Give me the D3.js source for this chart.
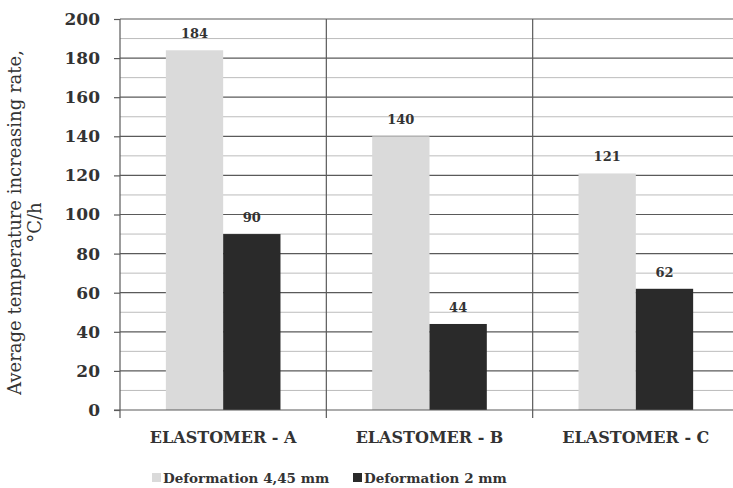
<!DOCTYPE html>
<html>
<head>
<meta charset="utf-8">
<script src="https://cdn.jsdelivr.net/npm/d3@7/dist/d3.min.js"></script>
<style>
  html, body { margin: 0; padding: 0; background: #fff; }
  svg { display: block; }
  text { font-family: "DejaVu Serif", "Liberation Serif", serif; fill: #333; }
</style>
</head>
<body>
<svg id="chart" width="733" height="488"></svg>
<script>
// Average temperature increasing rate per elastomer and deformation level
const categories = ["ELASTOMER - A", "ELASTOMER - B", "ELASTOMER - C"];
const seriesNames = ["Deformation 4,45 mm", "Deformation 2 mm"];
const deformation445 = [184, 140, 121];
const deformation2 = [90, 44, 62];
const yTicks = [0, 20, 40, 60, 80, 100, 120, 140, 160, 180, 200];
const colors = ["#dadada", "#2a2a2a"];

const svg = d3.select("#chart");
const margin = { left: 120, top: 19, right: -6 };
const W = 733;
const plotRight = W - margin.right;

const x = d3.scaleBand().domain(categories).range([margin.left, plotRight]).paddingInner(0).paddingOuter(0);
const y = d3.scaleLinear().domain([0, 200]).range([410, margin.top]);
const xs = d3.scaleBand().domain(seriesNames).range([0, x.bandwidth()]).paddingInner(0).paddingOuter(0.8);

// minor gridlines every 10
const minor = d3.range(10, 200, 20);
svg.append("g").selectAll("line").data(minor).join("line")
  .attr("x1", margin.left).attr("x2", plotRight)
  .attr("y1", d => y(d)).attr("y2", d => y(d))
  .attr("stroke", "#bcbcbc").attr("stroke-width", 1);

// major gridlines every 20
svg.append("g").selectAll("line").data(yTicks.filter(d => d > 0)).join("line")
  .attr("x1", margin.left).attr("x2", plotRight)
  .attr("y1", d => y(d)).attr("y2", d => y(d))
  .attr("stroke", "#5a5a5a").attr("stroke-width", 1.2);

// vertical separators between categories
svg.append("g").selectAll("line").data(categories.slice(1)).join("line")
  .attr("x1", d => x(d)).attr("x2", d => x(d))
  .attr("y1", y(200)).attr("y2", y(0) + 8)
  .attr("stroke", "#5a5a5a").attr("stroke-width", 1.2);

// bars
const series = [deformation445, deformation2];
const groups = svg.append("g").selectAll("g").data(series).join("g")
  .attr("fill", (d, i) => colors[i]);
groups.selectAll("rect").data((vals, si) => vals.map((v, ci) => ({ v, ci, si }))).join("rect")
  .attr("x", d => x(categories[d.ci]) + xs(seriesNames[d.si]))
  .attr("width", xs.bandwidth())
  .attr("y", d => y(d.v))
  .attr("height", d => y(0) - y(d.v));

// value labels
svg.append("g").selectAll("text")
  .data(series.flatMap((vals, si) => vals.map((v, ci) => ({ v, ci, si }))))
  .join("text")
  .attr("x", d => x(categories[d.ci]) + xs(seriesNames[d.si]) + xs.bandwidth() / 2)
  .attr("y", d => y(d.v) - 12)
  .attr("text-anchor", "middle")
  .attr("font-size", 13).attr("font-weight", "bold")
  .text(d => d.v);

// y axis
const yAxis = d3.axisLeft(y).tickValues(yTicks).tickSize(6).tickPadding(14);
const gy = svg.append("g").attr("transform", `translate(${margin.left},0)`).call(yAxis);
gy.select(".domain").attr("stroke", "#5a5a5a").attr("stroke-width", 1.2)
  .attr("d", `M0,${y(200)}V${y(0) + 8}`);
gy.selectAll(".tick line").attr("stroke", "#5a5a5a").attr("stroke-width", 1.2);
gy.selectAll(".tick text").attr("font-size", 17).attr("font-weight", "bold")
  .attr("font-family", "DejaVu Serif, serif").attr("fill", "#4a4a4a");

// x axis baseline
const xAxis = d3.axisBottom(x).tickSize(0).tickPadding(22);
const gx = svg.append("g").attr("transform", `translate(0,${y(0)})`).call(xAxis);
gx.select(".domain").attr("stroke", "#5a5a5a").attr("stroke-width", 1.2)
  .attr("d", `M${margin.left - 6},0H${plotRight}`);
gx.selectAll(".tick text").attr("font-size", 16).attr("font-weight", "bold")
  .attr("font-family", "DejaVu Serif, serif").attr("fill", "#333").attr("dy", "0.71em");

// y axis title
const title = svg.append("text")
  .attr("transform", `translate(21,${(y(0) + y(200)) / 2 + 8}) rotate(-90)`)
  .attr("text-anchor", "middle").attr("font-size", 18).attr("fill", "#333");
title.append("tspan").attr("x", 0).attr("dy", 0).text("Average temperature increasing rate,");
title.append("tspan").attr("x", 0).attr("dy", 20).text("\u00B0C/h");

// legend
const legendX = [152, 353];
const legend = svg.append("g").selectAll("g").data(seriesNames).join("g")
  .attr("transform", (d, i) => `translate(${legendX[i]},478)`);
legend.append("rect").attr("x", 0).attr("y", -5).attr("width", 9).attr("height", 9)
  .attr("fill", (d, i) => colors[i]);
legend.append("text").attr("x", 11).attr("y", 0).attr("dy", "0.35em")
  .attr("font-size", 13.5).attr("font-weight", "bold").attr("fill", "#333")
  .text(d => d);
</script>
</body>
</html>
